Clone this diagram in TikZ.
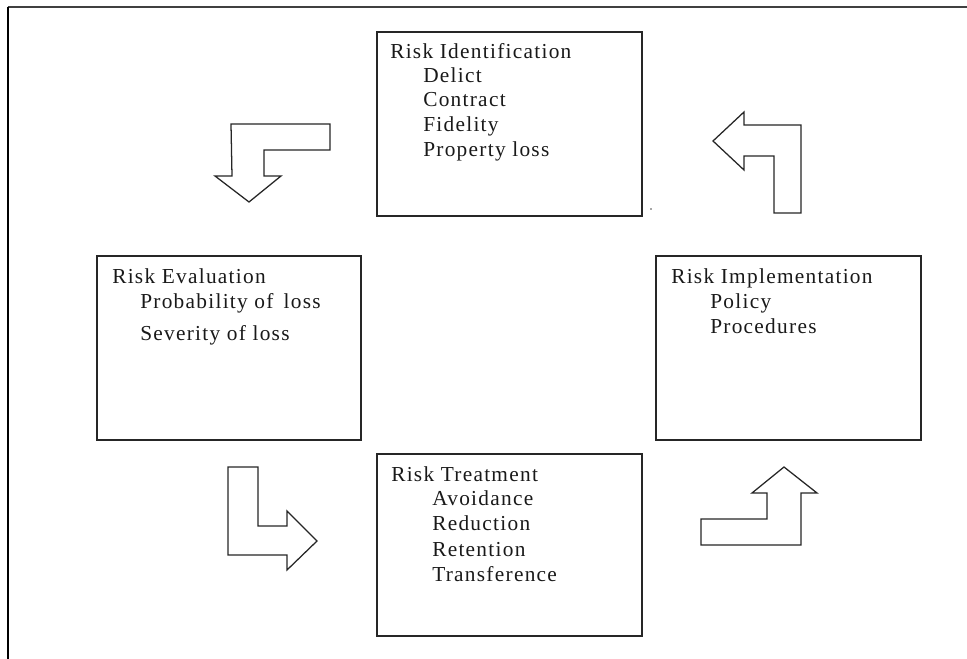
\documentclass[tikz,border=0pt]{standalone}
\usepackage{fontspec}
\setmainfont[LetterSpace=6]{Liberation Serif}
\begin{document}
\begin{tikzpicture}[x=0.75pt,y=-0.75pt,
  box/.style={draw=black!85,line width=1.1pt,rectangle,inner sep=0pt,minimum width=198.75pt},
  txt/.style={anchor=base west,inner sep=0pt,font=\fontsize{16}{19}\selectfont,text=black!90},
  blockarrow/.style={draw=black!85,line width=0.95pt,line join=miter,fill=white}]
\useasboundingbox (0,0) rectangle (967,659);
% outer frame
\draw[draw=black!75,line width=1.6pt] (7.5,7) -- (967,7);
\draw[draw=black,line width=1.2pt] (8,7) -- (8,659);
% boxes
\node[box,minimum height=138pt] (ident) at (509.5,124) {};
\node[box,minimum width=198pt,minimum height=138pt] (evalb) at (229,348) {};
\node[box,minimum height=138pt] (impl) at (788.5,348) {};
\node[box,minimum height=136.5pt] (treat) at (509.5,545) {};
% stray dot
\fill[black!70] (651,209) circle (0.8);
% Risk Identification
\node[txt] (i0) at (390,59) {Risk Identification};
\node[txt] (i1) at (423,83) {Delict};
\node[txt] (i2) at (423,107) {Contract};
\node[txt] (i3) at (423,132) {Fidelity};
\node[txt] (i4) at (423,157) {Property loss};
% Risk Evaluation
\node[txt] (e0) at (112,283) {Risk Evaluation};
\node[txt] (e1) at (140,309) {Probability of\, loss};
\node[txt] (e2) at (140,340) {Severity of loss};
% Risk Implementation
\node[txt] (m0) at (671,283) {Risk Implementation};
\node[txt] (m1) at (710,308) {Policy};
\node[txt] (m2) at (710,333) {Procedures};
% Risk Treatment
\node[txt] (t0) at (391,481) {Risk Treatment};
\node[txt] (t1) at (432,505) {Avoidance};
\node[txt] (t2) at (432,530) {Reduction};
\node[txt] (t3) at (432,556) {Retention};
\node[txt] (t4) at (432,581) {Transference};
% block arrows
\draw[blockarrow] (231,124) -- (330,124) -- (330,150) -- (264,150) -- (264,176) -- (281,176) -- (249,202) -- (215,176) -- (232,176) -- cycle;
\draw[blockarrow] (713,141) -- (744,112) -- (744,125) -- (801,125) -- (801,213) -- (774,213) -- (774,156) -- (744,156) -- (744,170) -- cycle;
\draw[blockarrow] (228,467) -- (258,467) -- (258,526) -- (287,526) -- (287,511) -- (317,541) -- (287,570) -- (287,555) -- (228,555) -- cycle;
\draw[blockarrow] (784,467) -- (817,493) -- (801,493) -- (801,545) -- (701,545) -- (701,519) -- (767,519) -- (767,493) -- (752,493) -- cycle;
\end{tikzpicture}
\end{document}
